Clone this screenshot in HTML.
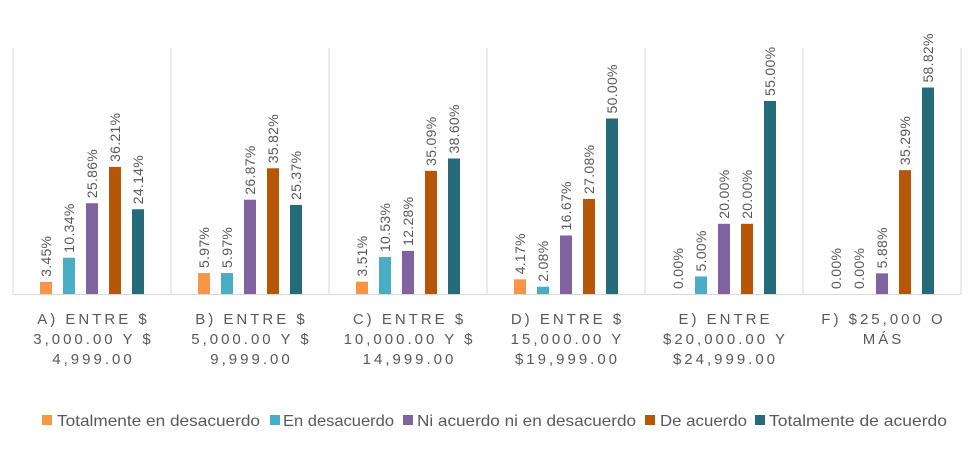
<!DOCTYPE html>
<html><head><meta charset="utf-8"><style>
body{margin:0;background:#fff;}
svg{display:block;font-family:"Liberation Sans",sans-serif;}
</style></head><body>
<svg id="chart" width="980" height="463" viewBox="0 0 980 463" xmlns="http://www.w3.org/2000/svg">
<g id="grid"></g>
<g id="bars"></g>
<g id="xlabels"></g>
<g id="legend"></g>
</svg>
<script>
const categories=[["A) ENTRE $","3,000.00 Y $","4,999.00"],["B) ENTRE $","5,000.00 Y $","9,999.00"],["C) ENTRE $","10,000.00 Y $","14,999.00"],["D) ENTRE $","15,000.00 Y","$19,999.00"],["E) ENTRE","$20,000.00 Y","$24,999.00"],["F) $25,000 O","MÁS"]];
const seriesNames=["Totalmente en desacuerdo","En desacuerdo","Ni acuerdo ni en desacuerdo","De acuerdo","Totalmente de acuerdo"];
const s1=[3.45,5.97,3.51,4.17,0,0];
const s2=[10.34,5.97,10.53,2.08,5,0];
const s3=[25.86,26.87,12.28,16.67,20,5.88];
const s4=[36.21,35.82,35.09,27.08,20,35.29];
const s5=[24.14,25.37,38.60,50,55,58.82];
const series=[s1,s2,s3,s4,s5];
const colors=["#F79646","#4BACC6","#8064A2","#B65708","#256B7A"];
const NS="http://www.w3.org/2000/svg";
const left=13,groupW=158,base=294,pxPer=3.51,barW=12,step=23;
const y=v=>base-v*pxPer;
const gx=i=>left+groupW*i+groupW/2;
function mk(t,a,p){const e=document.createElementNS(NS,t);for(const k in a)e.setAttribute(k,a[k]);p.appendChild(e);return e;}
const grid=document.getElementById('grid');
for(let i=0;i<=categories.length;i++){
 const l=mk('line',{x1:left+groupW*i,x2:left+groupW*i,y1:48,y2:base,stroke:'#D9D9D9','stroke-width':1},grid);
 
 
}
const ax=mk('line',{x1:left,x2:left+groupW*categories.length,y1:base+0.5,y2:base+0.5,stroke:'#D9D9D9','stroke-width':1},grid);


const bars=document.getElementById('bars');
categories.forEach((c,i)=>{
 series.forEach((s,j)=>{
  const cx=gx(i)+(j-2)*step;
  const v=s[i];
  const r=mk('rect',{x:cx-barW/2,y:y(v),width:barW,height:v*pxPer,fill:colors[j]},bars);
  
  
  const ty=y(v)-5;
  const t=mk('text',{x:0,y:0,transform:`translate(${cx+5},${ty}) rotate(-90)`,'font-size':14,fill:'#595959','letter-spacing':'0.3'},bars);
  t.textContent=v.toFixed(2)+'%';
  
  
 });
});
const xl=document.getElementById('xlabels');
categories.forEach((c,i)=>{
 c.forEach((line,k)=>{
  const t=mk('text',{x:gx(i)+1.5,y:324+k*20,'text-anchor':'middle','font-size':15,fill:'#595959','letter-spacing':'3'},xl);
  t.textContent=line;
  
  
 });
});
const lg=document.getElementById('legend');
const sq=[42,270,403,645,755];
const tStart=[57,283,417,660,769];
const tEnd=[260,394,636,747,947];
seriesNames.forEach((n,j)=>{
 const r=mk('rect',{x:sq[j],y:415,width:10,height:10,fill:colors[j]},lg);
 
 
 const t=mk('text',{x:tStart[j],y:426,'font-size':16,fill:'#595959',textLength:tEnd[j]-tStart[j],lengthAdjust:'spacingAndGlyphs'},lg);
 t.textContent=n;
 
 
});
</script>
</body></html>
